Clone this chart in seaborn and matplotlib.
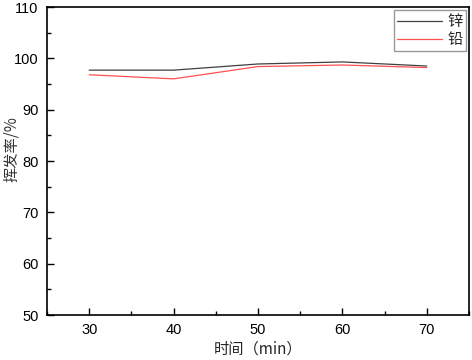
import matplotlib
matplotlib.use("Agg")
import matplotlib.pyplot as plt
import seaborn as sns
import pandas as pd
from matplotlib.ticker import MultipleLocator

time_min = [30, 40, 50, 60, 70]
zinc = [97.7, 97.7, 98.9, 99.3, 98.5]
lead = [96.8, 96.0, 98.4, 98.7, 98.2]
series_names = ["锌", "铅"]

sns.set_theme(style="white")
plt.rcParams['font.family'] = ['Liberation Sans', 'Noto Sans CJK SC', 'DejaVu Sans']

df = pd.DataFrame({
    "t": time_min * 2,
    "v": zinc + lead,
    "s": [series_names[0]] * len(zinc) + [series_names[1]] * len(lead),
})

fig = plt.figure(figsize=(4.72, 3.6), dpi=100)
ax = fig.add_axes([47/472, 1 - 315/360, (469-47)/472, (315-7)/360])
sns.lineplot(data=df, x="t", y="v", hue="s", palette=["#404040", "#ff5050"],
             linewidth=0.9, ax=ax, legend=True)

ax.set_xlim(25, 75)
ax.set_ylim(50, 110)
ax.xaxis.set_major_locator(MultipleLocator(10))
ax.xaxis.set_minor_locator(MultipleLocator(5))
ax.yaxis.set_major_locator(MultipleLocator(10))
ax.yaxis.set_minor_locator(MultipleLocator(5))
ax.tick_params(which='both', direction='in', top=False, right=False, bottom=True, left=True,
               colors='black', labelsize=10.5)
ax.tick_params(which='major', length=5, width=1)
ax.tick_params(which='minor', length=3, width=1)
ax.tick_params(axis='y', which='major', pad=6)
ax.tick_params(axis='x', which='major', pad=6)
for sp in ax.spines.values():
    sp.set_color('black')
    sp.set_linewidth(1.2)

ax.set_xlabel("时间（min）", fontsize=11, family=['Noto Sans CJK SC'])
ax.set_ylabel("挥发率/%", fontsize=11, family=['Noto Sans CJK SC'], color='#333333')
ax.xaxis.set_label_coords(0.5, -0.11)
ax.yaxis.set_label_coords(-0.083, 0.54)
ax.xaxis.label.set_va('center')
ax.yaxis.label.set_va('center')

leg = ax.legend(loc='upper right', frameon=True, fancybox=False, fontsize=11,
                handlelength=2.9, borderpad=0.2, labelspacing=0.05, handletextpad=0.4,
                borderaxespad=0.2)
leg.get_frame().set_edgecolor('#808080')
leg.get_frame().set_linewidth(1.0)
for t in leg.get_texts():
    t.set_fontfamily(['Noto Sans CJK SC'])

fig.savefig("out.png", dpi=100, facecolor='white')
